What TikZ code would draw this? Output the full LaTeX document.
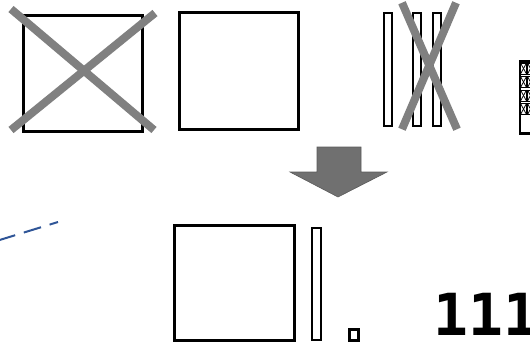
\documentclass[tikz,border=0pt]{standalone}
\usepackage{fontspec}
\usepackage{tikz}
\usetikzlibrary{arrows.meta,positioning,calc}
\newfontfamily\digitfont{DejaVu Sans Mono}
\definecolor{strike}{HTML}{808080}
\definecolor{arrowfill}{HTML}{707070}
\definecolor{dashblue}{HTML}{2F5597}
\tikzset{
  blockbox/.style={draw, line width=3pt, fill=white, inner sep=0pt},
  strikeline/.style={draw=strike, line width=8pt},
  cellx/.style={draw, line width=0.8pt},
  downarr/.style={fill=arrowfill, draw=arrowfill!80!black, line width=0.6pt},
  dashlink/.style={draw=dashblue, line width=2pt, dash pattern=on 18pt off 9pt}
}

\begin{document}
\begin{tikzpicture}[x=1pt,y=-1pt]
        \clip (0,0) rectangle (530,346);
        \useasboundingbox (0,0) rectangle (530,346);
        % top row
        \node[blockbox, minimum width=119pt, minimum height=116pt] (sqA) at (83,73.5) {};
        \node[blockbox, minimum width=118.5pt, minimum height=117pt] (sqB) at (238.75,71) {};
        \node[blockbox, line width=2.5pt, minimum width=8pt, minimum height=113pt] (barA) at (388,69.5) {};
        \node[blockbox, line width=2.5pt, minimum width=8pt, minimum height=113pt] (barB) at (417,69.5) {};
        \node[blockbox, line width=2.5pt, minimum width=8pt, minimum height=113pt] (barC) at (437,69.5) {};
        \node[blockbox, line width=2.5pt, anchor=north west, minimum width=30pt, minimum height=72pt] (cells) at (518.5,60) {};
        \foreach \i in {0,...,3}
          \foreach \j in {0,1} {
            \draw[cellx] ($(cells.north west)+(2+7*\j,3+13.5*\i)$) rectangle +(6,11);
            \draw[cellx] ($(cells.north west)+(2+7*\j,3+13.5*\i)$) -- +(6,11);
            \draw[cellx] ($(cells.north west)+(8+7*\j,3+13.5*\i)$) -- +(-6,11);
          }
        \draw[strikeline] ($(sqA.north west)+(-11,-5)$) -- ($(sqA.south east)+(10,-3)$);
        \draw[strikeline] ($(sqA.north east)+(11,-1)$) -- ($(sqA.south west)+(-11,-3)$);
        \draw[strikeline] ($(barB.north)+(-15,-9)$) -- ($(barC.south)+(20,2)$);
        \draw[strikeline] ($(barC.north)+(19,-9)$) -- ($(barB.south)+(-15,2)$);
        % arrow
        \coordinate (tip) at (338,197);
        \path[downarr] (317,147) -- (361,147) -- (361,172) -- (387,172) -- (tip)
          -- (290,172) -- (317,172) -- cycle;
        % bottom row
        \node[blockbox, minimum width=120pt, minimum height=115pt] (sqC) at (234.5,283) {};
        \node[blockbox, line width=2.5pt, minimum width=9pt, minimum height=112pt] (barD) at (316.5,284) {};
        \node[blockbox, line width=2.5pt, minimum width=9pt, minimum height=11pt] (dotE) at (354,335) {};
        \node[anchor=base west, inner sep=0pt, font=\digitfont\bfseries\fontsize{58}{58}\selectfont] (num) at (433,335) {111};
        % dashed link
        \coordinate (linkA) at (-2,240.5);
        \coordinate (linkB) at (58,222);
        \draw[dashlink] (linkA) -- (linkB);
      \end{tikzpicture}
\end{document}
